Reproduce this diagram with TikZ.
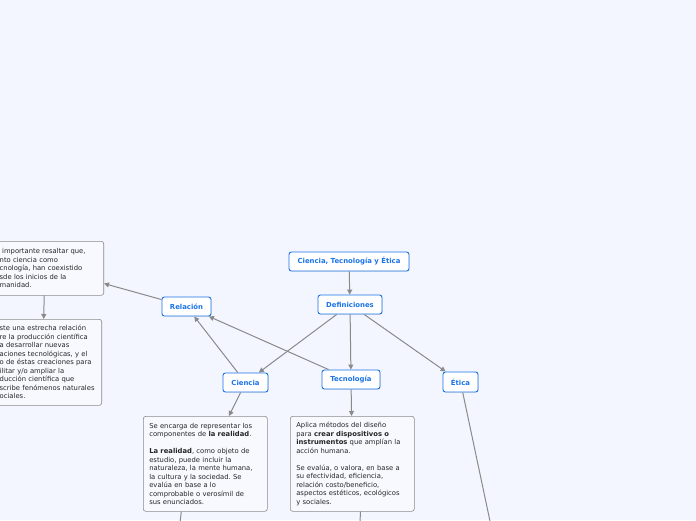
\documentclass[tikz,border=0pt]{standalone}
\usepackage{fontspec}
\setmainfont{DejaVu Sans}
\usetikzlibrary{arrows.meta, positioning, shadows}
\definecolor{bgcol}{RGB}{243,246,254}
\definecolor{mmblue}{RGB}{26,115,232}
\definecolor{linegray}{RGB}{138,138,138}
\definecolor{boxfill}{RGB}{247,249,255}
\frenchspacing

\begin{document}
\begin{tikzpicture}[x=1pt, y=-1pt,
    topic/.style={draw=mmblue, line width=0.9pt, fill=white, rounded corners=2.5pt,
        text=mmblue, font=\fontsize{6.9}{7.5}\selectfont\bfseries, minimum height=19pt,
        inner xsep=2pt, drop shadow={opacity=0.2, shadow xshift=0.6pt, shadow yshift=-0.6pt}},
    note/.style={draw=linegray, line width=0.6pt, fill=boxfill, rounded corners=2.5pt,
        font=\fontsize{6.8}{8.5}\selectfont, text=black!85, align=left, inner ysep=5pt},
    conn/.style={draw=linegray, line width=1pt, -{Triangle[length=5pt, width=5pt]}}]
\useasboundingbox (0,0) rectangle (696,520);
\clip (0,0) rectangle (696,520);
\fill[bgcol] (0,0) rectangle (696,520);

% topics
\node[topic, minimum width=120pt] (cte) at (349,261.5) {Ciencia, Tecnología y Ética};
\node[topic, minimum width=64pt] (defs) at (350,304.5) {Definiciones};
\node[topic, minimum width=49pt] (relacion) at (186.5,306.5) {Relación};
\node[topic, minimum width=45pt] (ciencia) at (245.5,382.5) {Ciencia};
\node[topic, minimum width=58pt] (tecno) at (351,379.5) {Tecnología};
\node[topic, minimum width=35pt, minimum height=20pt] (etica) at (460.5,382) {Ética};

% notes
\node[note, anchor=north east, text width=99pt, inner xsep=5pt, minimum height=54pt] (resaltar) at (104,241)
    {\hspace*{2.5pt}importante resaltar que,\\ nto ciencia como\\ cnología, han coexistido\\
     sde los inicios de la\\ manidad.};
\node[note, anchor=north east, text width=97pt, inner xsep=5pt, minimum height=86pt] (existe) at (102,319)
    {ste una estrecha relación\\ re la producción científica\\ a desarrollar nuevas\\
     aciones tecnológicas, y el\\ o de éstas creaciones para\\ ilitar y/o ampliar la\\
     ducción científica que\\ scribe fenómenos naturales\\ ociales.};
\node[note, anchor=north west, text width=112pt, inner xsep=6pt, minimum height=95pt] (cientxt) at (143,416)
    {Se encarga de representar los\\ componentes de \textbf{la realidad}.\\[8.5pt]
     \textbf{La realidad}, como objeto de\\ estudio, puede incluir la\\ naturaleza, la mente humana,\\
     la cultura y la sociedad. Se\\ evalúa en base a lo\\ comprobable o verosímil de\\ sus enunciados.};
\node[note, anchor=north west, text width=112pt, inner xsep=6pt, minimum height=95pt] (tecnotxt) at (290,416)
    {Aplica métodos del diseño\\ para \textbf{crear dispositivos o}\\ \textbf{instrumentos} que amplían la\\
     acción humana.\\[8.5pt]
     Se evalúa, o valora, en base a\\ su efectividad, eficiencia,\\ relación costo/beneficio,\\
     aspectos estéticos, ecológicos\\ y sociales.};

% connectors
\draw[conn] (cte) -- (defs);
\foreach \t in {ciencia, tecno, etica}
    \draw[conn] (defs) -- (\t);
\foreach \s in {ciencia, tecno}
    \draw[conn] (\s) -- (relacion);
\draw[conn] (relacion) -- (resaltar);
\draw[conn] ([xshift=-5pt]resaltar.south) -- ([xshift=-4.5pt]existe.north);
\draw[conn] (ciencia) -- (cientxt);
\draw[conn] (tecno) -- (tecnotxt);
\coordinate (eticafin) at (494,540);
\coordinate (cienfin) at (178,540);
\coordinate (tecnofin) at (360,540);
\draw[conn] (etica) -- (eticafin);
\draw[conn] ([xshift=-24pt]cientxt.south) -- (cienfin);
\draw[conn] ([xshift=8pt]tecnotxt.south) -- (tecnofin);
\end{tikzpicture}
\end{document}
